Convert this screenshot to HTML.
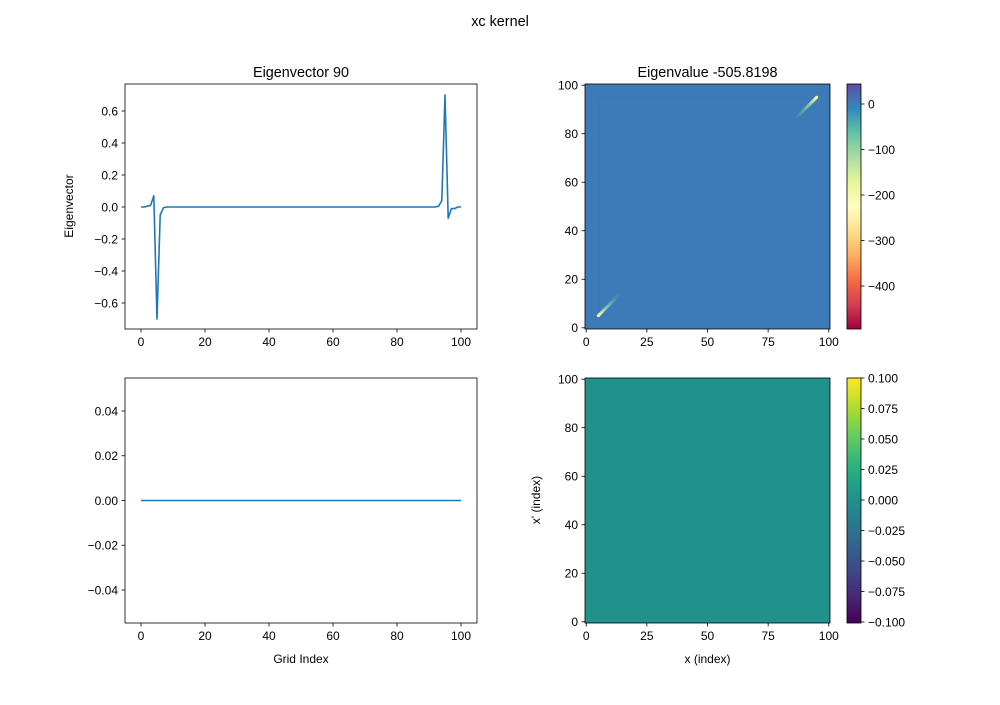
<!DOCTYPE html>
<html><head><meta charset="utf-8">
<style>
html,body{margin:0;padding:0;background:#fff;}
svg text{font-family:"Liberation Sans","DejaVu Sans",sans-serif;font-size:12px;fill:#000;}
</style></head>
<body>
<svg id="fig" width="1000" height="700" xmlns="http://www.w3.org/2000/svg">
<defs>
<linearGradient id="spectral" x1="0" y1="1" x2="0" y2="0">
<stop offset="0" stop-color="#9e0142"/><stop offset="0.1" stop-color="#d53e4f"/><stop offset="0.2" stop-color="#f46d43"/><stop offset="0.3" stop-color="#fdae61"/><stop offset="0.4" stop-color="#fee08b"/><stop offset="0.5" stop-color="#ffffbf"/><stop offset="0.6" stop-color="#e6f598"/><stop offset="0.7" stop-color="#abdda4"/><stop offset="0.8" stop-color="#66c2a5"/><stop offset="0.9" stop-color="#3288bd"/><stop offset="1" stop-color="#5e4fa2"/>
</linearGradient>
<linearGradient id="viridis" x1="0" y1="1" x2="0" y2="0">
<stop offset="0" stop-color="#440154"/><stop offset="0.111" stop-color="#482878"/><stop offset="0.222" stop-color="#3e4989"/><stop offset="0.333" stop-color="#31688e"/><stop offset="0.444" stop-color="#26828e"/><stop offset="0.555" stop-color="#1f9e89"/><stop offset="0.666" stop-color="#35b779"/><stop offset="0.777" stop-color="#6ece58"/><stop offset="0.888" stop-color="#b5de2b"/><stop offset="1" stop-color="#fde725"/>
</linearGradient>
<linearGradient id="streakBL" x1="0" y1="1" x2="1" y2="0">
<stop offset="0" stop-color="#ffffa0" stop-opacity="1"/><stop offset="0.3" stop-color="#9fd8a4" stop-opacity="0.9"/><stop offset="1" stop-color="#66c2a5" stop-opacity="0"/>
</linearGradient>
<linearGradient id="streakTR" x1="1" y1="0" x2="0" y2="1">
<stop offset="0" stop-color="#ffffa0" stop-opacity="1"/><stop offset="0.3" stop-color="#9fd8a4" stop-opacity="0.9"/><stop offset="1" stop-color="#66c2a5" stop-opacity="0"/>
</linearGradient>
</defs>
<text x="500" y="26" text-anchor="middle" style="font-size:14.4px">xc kernel</text>
<g id="g1"></g><g id="g2"></g><g id="g3"></g><g id="g4"></g>
</svg>
<script>
const evIndex = [];
for (let i = 0; i <= 100; i++) evIndex.push(i);
const evValues = [0,0,0.005,0.01,0.07,-0.7,-0.05,-0.005,0,0,
0,0,0,0,0,0,0,0,0,0, 0,0,0,0,0,0,0,0,0,0, 0,0,0,0,0,0,0,0,0,0,
0,0,0,0,0,0,0,0,0,0, 0,0,0,0,0,0,0,0,0,0, 0,0,0,0,0,0,0,0,0,0,
0,0,0,0,0,0,0,0,0,0, 0,0,0,0,0,0,0,0,0,0, 0,0,0,0.005,0.04,0.7,-0.07,-0.01,-0.01,0,0];
const zeroValues = evIndex.map(() => 0);
const lineXTicks = [0,20,40,60,80,100];
const topYTicks = [-0.6,-0.4,-0.2,0.0,0.2,0.4,0.6];
const botYTicks = [-0.04,-0.02,0.00,0.02,0.04];
const heatTicks = [0,25,50,75,100];
const heatYTicks = [0,20,40,60,80,100];
const cb1Ticks = [0,-100,-200,-300,-400];
const cb2Ticks = [-0.1,-0.075,-0.05,-0.025,0,0.025,0.05,0.075,0.1];

const NS = "http://www.w3.org/2000/svg";
function mk(parent, tag, attrs, text) {
  const e = document.createElementNS(NS, tag);
  for (const k in attrs) e.setAttribute(k, attrs[k]);
  if (text !== undefined) e.textContent = text;
  parent.appendChild(e);
  return e;
}
function lin(d0, d1, r0, r1) { return v => r0 + (v - d0) * (r1 - r0) / (d1 - d0); }
function fmtNum(v, dec) { const s = v.toFixed(dec); return v < 0 ? "\u2212" + s.slice(1) : s; }

function xTicks(g, sx, ticks, yb, dec) {
  ticks.forEach(t => {
    const x = sx(t);
    const tk = mk(g, "line", {x1:x, x2:x, y1:yb, y2:yb+3.5, stroke:"#000", "stroke-width":0.8});
    
    
    const lb = mk(g, "text", {x:x, y:yb+17, "text-anchor":"middle"}, fmtNum(t, dec));
    
    
  });
}
function yTicks(g, sy, ticks, xl, dec, right) {
  ticks.forEach(t => {
    const y = sy(t);
    const tk = mk(g, "line", {x1:xl, x2:right ? xl+3.5 : xl-3.5, y1:y, y2:y, stroke:"#000", "stroke-width":0.8});
    
    
    const lb = mk(g, "text", {x:right ? xl+7 : xl-7, y:y+4.3, "text-anchor":right ? "start" : "end"}, fmtNum(t, dec));
    
    
  });
}
function frame(g, x0, y0, x1, y1) {
  const r = mk(g, "rect", {x:x0, y:y0, width:x1-x0, height:y1-y0, fill:"none", stroke:"#000", "stroke-width":0.8});
  
  
}
function lineSeries(g, sx, sy, xs, ys) {
  const d = xs.map((x, i) => (i ? "L" : "M") + sx(x).toFixed(2) + "," + sy(ys[i]).toFixed(2)).join("");
  const p = mk(g, "path", {d:d, fill:"none", stroke:"#1f77b4", "stroke-width":1.6, "stroke-linejoin":"round"});
  
  
}

(function(){
  const g = document.getElementById("g1");
  
  
  const x0=125,x1=477,y0=84,y1=329;
  const sx = lin(-5, 105, x0, x1);
  const sy = lin(0, 0.6, 207, 111);
  lineSeries(g, sx, sy, evIndex, evValues);
  frame(g, x0, y0, x1, y1);
  xTicks(g, sx, lineXTicks, y1, 0);
  yTicks(g, sy, topYTicks, x0, 1, false);
  const t = mk(g, "text", {x:(x0+x1)/2, y:y0-7, "text-anchor":"middle", style:"font-size:14.4px"}, "Eigenvector 90");
  
  
  const yl = mk(g, "text", {x:0, y:0, "text-anchor":"middle", transform:"translate(73,206) rotate(-90)"}, "Eigenvector");
  
  
})();

(function(){
  const g = document.getElementById("g2");
  
  
  const x0=585,x1=830,y0=84,y1=329;
  const sx = lin(-0.5, 100.5, x0, x1);
  const sy = lin(-0.5, 100.5, y1, y0);
  const bg = mk(g, "rect", {x:x0, y:y0, width:x1-x0, height:y1-y0, fill:"#3d7bb8"});
  
  
  const inner = mk(g, "rect", {x:sx(5.5), y:sy(94.5), width:sx(94.5)-sx(5.5), height:sy(5.5)-sy(94.5), fill:"none", stroke:"#3e78b6", "stroke-width":2.5});
  
  
  const s1 = mk(g, "line", {x1:sx(5), y1:sy(5), x2:sx(14), y2:sy(14), stroke:"url(#streakBL)", "stroke-width":3, "stroke-linecap":"round"});
  
  
  const s2 = mk(g, "line", {x1:sx(95), y1:sy(95), x2:sx(86), y2:sy(86), stroke:"url(#streakTR)", "stroke-width":3, "stroke-linecap":"round"});
  
  
  frame(g, x0, y0, x1, y1);
  xTicks(g, sx, heatTicks, y1, 0);
  yTicks(g, sy, heatYTicks, x0, 0, false);
  const t = mk(g, "text", {x:(x0+x1)/2, y:y0-7, "text-anchor":"middle", style:"font-size:14.4px"}, "Eigenvalue -505.8198");
  
  
  const cx0=847,cx1=861;
  const cs = lin(0, -400, 104, 286);
  const cb = mk(g, "rect", {x:cx0, y:y0, width:cx1-cx0, height:y1-y0, fill:"url(#spectral)", stroke:"#000", "stroke-width":0.8});
  
  
  yTicks(g, cs, cb1Ticks, cx1, 0, true);
})();

(function(){
  const g = document.getElementById("g3");
  
  
  const x0=125,x1=477,y0=378,y1=623;
  const sx = lin(-5, 105, x0, x1);
  const sy = lin(0, 0.04, 500.5, 411);
  lineSeries(g, sx, sy, evIndex, zeroValues);
  frame(g, x0, y0, x1, y1);
  xTicks(g, sx, lineXTicks, y1, 0);
  yTicks(g, sy, botYTicks, x0, 2, false);
  const xl = mk(g, "text", {x:(x0+x1)/2, y:663, "text-anchor":"middle"}, "Grid Index");
  
  
})();

(function(){
  const g = document.getElementById("g4");
  
  
  const x0=585,x1=830,y0=378,y1=623;
  const sx = lin(-0.5, 100.5, x0, x1);
  const sy = lin(-0.5, 100.5, y1, y0);
  const bg = mk(g, "rect", {x:x0, y:y0, width:x1-x0, height:y1-y0, fill:"#21918c"});
  
  
  frame(g, x0, y0, x1, y1);
  xTicks(g, sx, heatTicks, y1, 0);
  yTicks(g, sy, heatYTicks, x0, 0, false);
  const xl = mk(g, "text", {x:(x0+x1)/2, y:663, "text-anchor":"middle"}, "x (index)");
  
  
  const yl = mk(g, "text", {x:0, y:0, "text-anchor":"middle", transform:"translate(540,500) rotate(-90)"}, "x' (index)");
  
  
  const cx0=847,cx1=861;
  const cs = lin(-0.1, 0.1, y1-1, y0);
  const cb = mk(g, "rect", {x:cx0, y:y0, width:cx1-cx0, height:y1-y0, fill:"url(#viridis)", stroke:"#000", "stroke-width":0.8});
  
  
  yTicks(g, cs, cb2Ticks, cx1, 3, true);
})();
</script>
</body></html>
